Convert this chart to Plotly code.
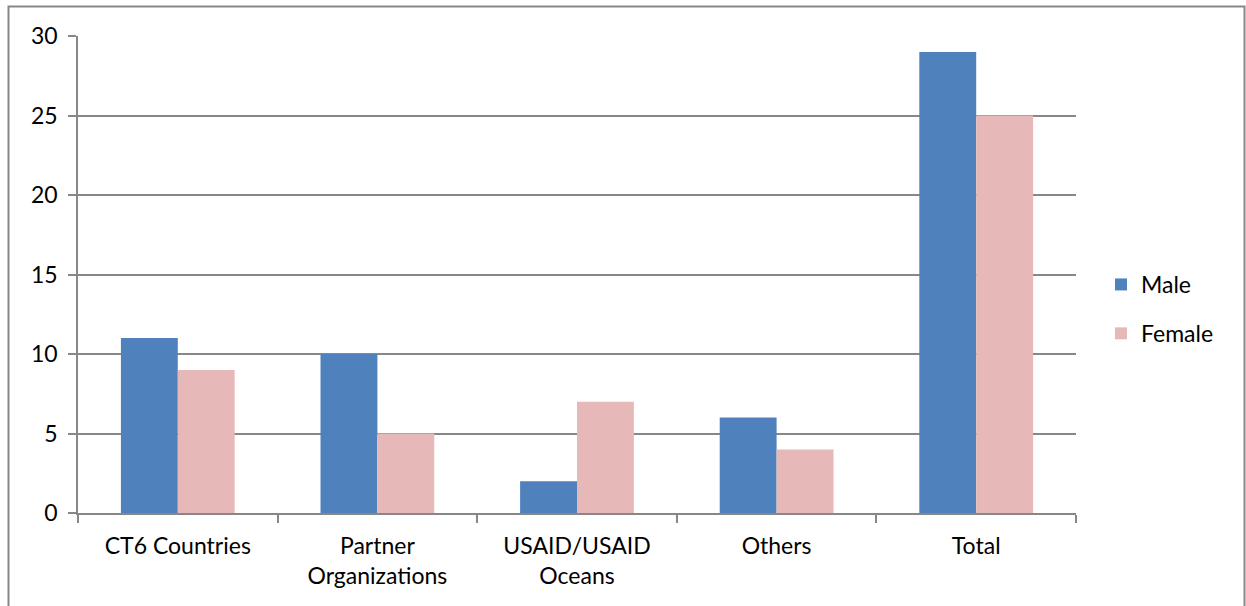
import plotly.graph_objects as go

categories = ["CT6 Countries", "Partner<br>Organizations", "USAID/USAID<br>Oceans", "Others", "Total"]
male = [11, 10, 2, 6, 29]
female = [9, 5, 7, 4, 25]
y_ticks = [0, 5, 10, 15, 20, 25, 30]

FONT = "Lato"
FS = 23
GRID = "#878787"

fig = go.Figure()
fig.add_trace(go.Bar(x=categories, y=male, name="Male", marker=dict(color="#4F81BD", line=dict(width=0)),
                     legendgroup="m"))
fig.add_trace(go.Bar(x=categories, y=female, name="Female", marker=dict(color="#E6B9B8", line=dict(width=0)),
                     legendgroup="f"))

L, R, T, B = 78, 170, 36, 93
W, H = 1246, 606
pw, ph = W - L - R, H - T - B

fig.update_layout(
    width=W, height=H,
    margin=dict(l=L, r=R, t=T, b=B, pad=0),
    paper_bgcolor="white", plot_bgcolor="white",
    barmode="group", bargap=0.43, bargroupgap=0,
    font=dict(family=FONT, size=FS, color="#000000"),
    showlegend=True,
    legend=dict(x=(1101 - L) / pw, xanchor="left", y=(513 - 309) / ph, yanchor="middle",
                font=dict(family=FONT, size=FS), tracegroupgap=16, traceorder="grouped",
                bgcolor="rgba(0,0,0,0)"),
    xaxis=dict(showline=True, linecolor=GRID, linewidth=1.5, ticks="outside", tickson="boundaries",
               ticklen=8, tickcolor=GRID, tickwidth=1.5, showgrid=False,
               tickfont=dict(family=FONT, size=FS), ticklabelstandoff=12),
    yaxis=dict(range=[0, 30], tickvals=y_ticks, showline=True, linecolor=GRID, linewidth=1.5,
               ticks="outside", ticklen=8, tickcolor=GRID, tickwidth=1.5,
               showgrid=True, gridcolor=GRID, gridwidth=1.5, zeroline=False,
               tickfont=dict(family=FONT, size=FS), ticklabelstandoff=6),
    shapes=[dict(type="rect", xref="paper", yref="paper",
                 x0=(8.5 - L) / pw, x1=(1244.5 - L) / pw,
                 y0=-(H + 10 - (H - B)) / ph, y1=1 + (T - 6.5) / ph,
                 line=dict(color="#878787", width=2), fillcolor="rgba(0,0,0,0)", layer="below")],
)

fig.write_html("out.html")
